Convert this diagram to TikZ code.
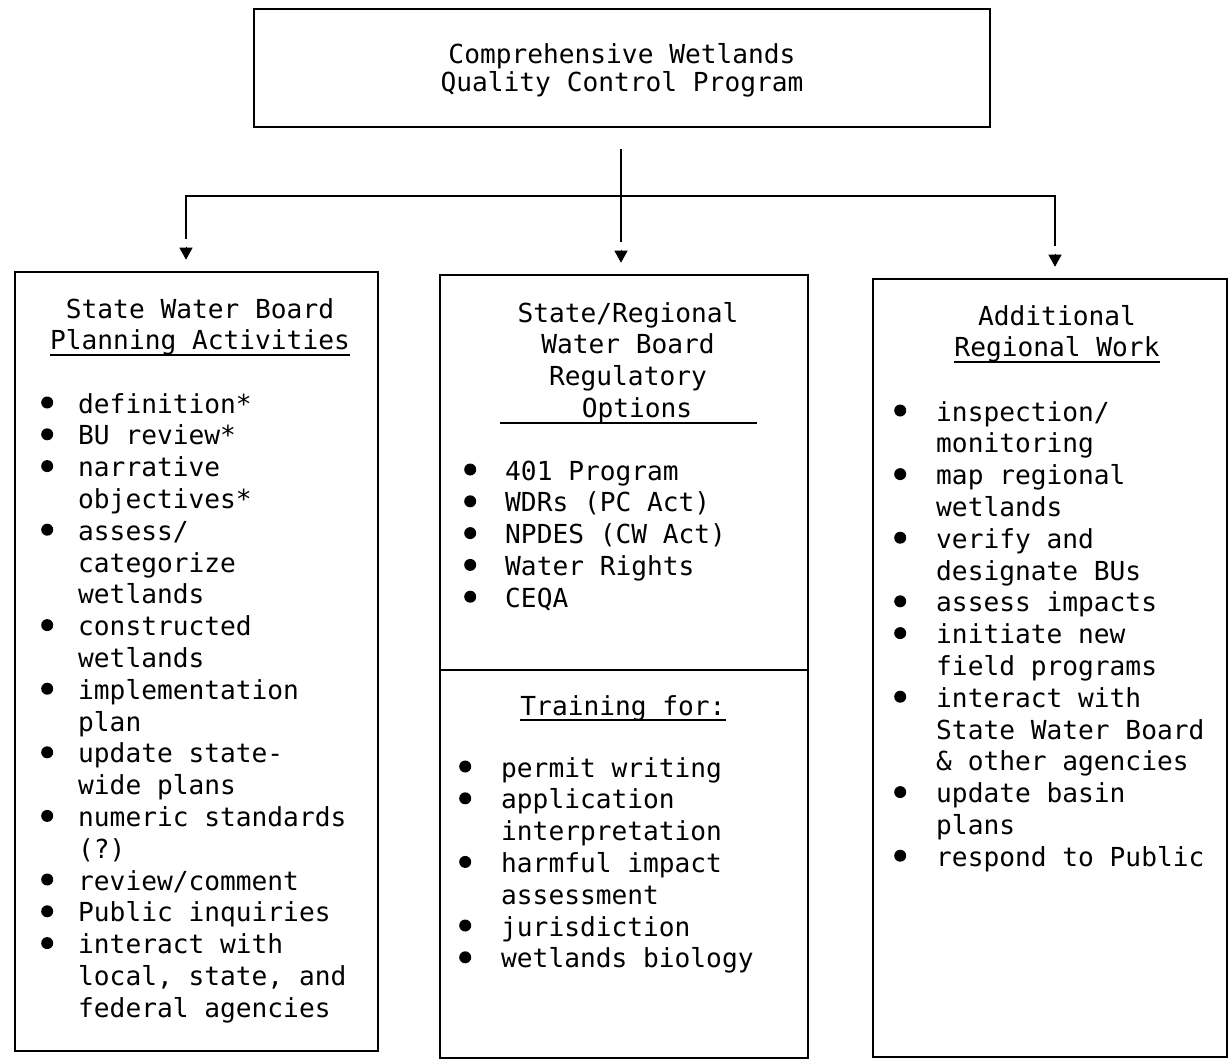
\documentclass[tikz,border=0pt]{standalone}
\usepackage{fontspec}
\newfontfamily\tw{DejaVu Sans Mono}
\usetikzlibrary{arrows.meta}
\newcommand\bul{\tikz[baseline=0pt]\fill[black] (0pt,10.5pt) circle[radius=6pt];}
\newcommand\myul[1]{\setbox0\hbox{#1}\rlap{\rule[-6pt]{\wd0}{2pt}}\box0}
\begin{document}
\begin{tikzpicture}[x=1pt,y=-1pt,
  box/.style={draw, line width=2.6pt, inner sep=0pt},
  txt/.style={font=\tw\fontsize{26.2}{31.8}\selectfont, inner sep=0pt, anchor=base},
  toptxt/.style={font=\tw\fontsize{26.2}{27}\selectfont, inner sep=0pt, anchor=base},
  list/.style={txt, anchor=base west},
  conn/.style={line width=2.2pt, shorten >=32pt},
  tiphead/.style={-{Triangle[width=13pt,length=12pt]}, line width=1pt, shorten >=11pt},
  uline/.style={line width=2pt}]
\fill[white] (0,0) rectangle (1229,1061);
\useasboundingbox (0,0) rectangle (1229,1061);

% boxes
\node[box, minimum width=736pt, minimum height=118pt] (top) at (622,68) {};
\node[box, minimum width=363pt, minimum height=779pt] (left) at (196.5,661.5) {};
\node[box, minimum width=368pt, minimum height=783pt] (mid) at (624,666.5) {};
\node[box, minimum width=354pt, minimum height=778pt] (right) at (1050,668) {};
\draw[line width=2.4pt] (mid.west |- 0,670) -- (mid.east |- 0,670);

% connectors
\coordinate (j) at (621,196);
\coordinate (jl) at (186,196);
\coordinate (jr) at (1055,196);
\draw[conn, shorten <=21pt] (top.south -| j) -- (mid.north -| j);
\draw[conn] (j) -- (jl) -- (jl |- left.north);
\draw[conn] (j) -- (jr) -- (jr |- right.north);
\draw[tiphead] ([yshift=24pt]mid.north -| j) -- (mid.north -| j);
\draw[tiphead] ([yshift=24pt]left.north -| jl) -- (left.north -| jl);
\draw[tiphead] ([yshift=24pt]right.north -| jr) -- (right.north -| jr);

% top text
\node[toptxt] (toptext) at (622,63) {\begin{tabular}[t]{@{}c@{}}Comprehensive Wetlands\\Quality Control Program\end{tabular}};

% left column
\node[txt] (planhead) at (200,318) {\begin{tabular}[t]{@{}c@{}}State Water Board\\\myul{Planning Activities}\end{tabular}};
\node[list] (planlist) at (41,413) {\begin{tabular}[t]{@{}c@{\hspace{25pt}}l@{}}
\bul & definition*\\
\bul & BU review*\\
\bul & narrative\\
     & objectives*\\
\bul & assess/\\
     & categorize\\
     & wetlands\\
\bul & constructed\\
     & wetlands\\
\bul & implementation\\
     & plan\\
\bul & update state-\\
     & wide plans\\
\bul & numeric standards\\
     & (?)\\
\bul & review/comment\\
\bul & Public inquiries\\
\bul & interact with\\
     & local, state, and\\
     & federal agencies
\end{tabular}};

% middle column
\node[txt] (reghead) at (628,322) {\begin{tabular}[t]{@{}c@{}}State/Regional\\Water Board\\Regulatory\\\hspace*{18pt}Options\end{tabular}};
\draw[uline] (500,423) -- (757,423);
\node[list] (reglist) at (464,480) {\begin{tabular}[t]{@{}c@{\hspace{29pt}}l@{}}
\bul & 401 Program\\
\bul & WDRs (PC Act)\\
\bul & NPDES (CW Act)\\
\bul & Water Rights\\
\bul & CEQA
\end{tabular}};
\node[txt] (trainhead) at (623,715) {\myul{Training for:}};
\node[list] (trainlist) at (459,777) {\begin{tabular}[t]{@{}c@{\hspace{30pt}}l@{}}
\bul & permit writing\\
\bul & application\\
     & interpretation\\
\bul & harmful impact\\
     & assessment\\
\bul & jurisdiction\\
\bul & wetlands biology
\end{tabular}};

% right column
\node[txt] (addhead) at (1057,325) {\begin{tabular}[t]{@{}c@{}}Additional\\\myul{Regional Work}\end{tabular}};
\node[list] (addlist) at (894,421) {\begin{tabular}[t]{@{}c@{\hspace{30pt}}l@{}}
\bul & inspection/\\
     & monitoring\\
\bul & map regional\\
     & wetlands\\
\bul & verify and\\
     & designate BUs\\
\bul & assess impacts\\
\bul & initiate new\\
     & field programs\\
\bul & interact with\\
     & State Water Board\\
     & \& other agencies\\
\bul & update basin\\
     & plans\\
\bul & respond to Public
\end{tabular}};
\end{tikzpicture}
\end{document}
